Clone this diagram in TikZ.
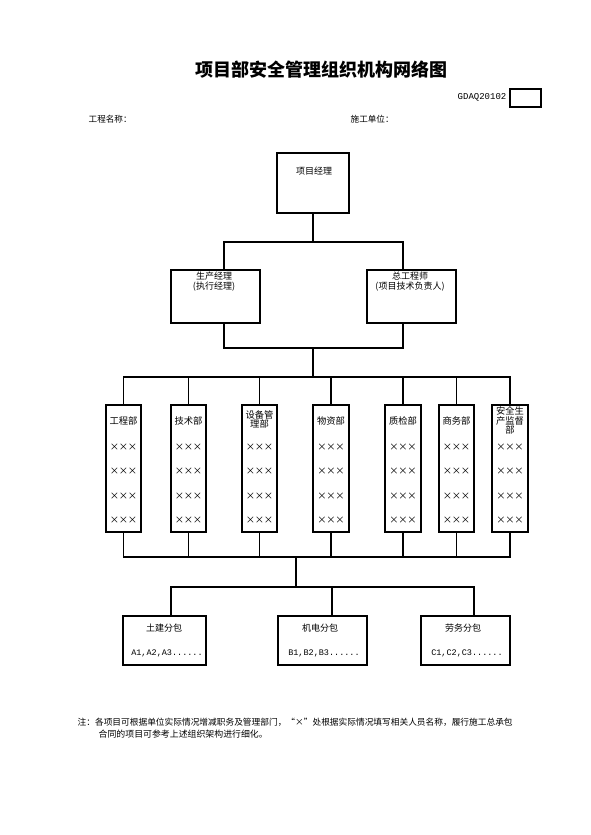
\documentclass[tikz,border=0pt]{standalone}
\usepackage{fontspec}
\setmainfont{Noto Sans CJK SC}
\newfontfamily\latinmono{Liberation Mono}
\newcommand{\xrow}{\makebox[9pt]{×}\makebox[9pt]{×}\makebox[9pt]{×}}
\begin{document}
\begin{tikzpicture}[x=1pt,y=-1pt,line width=1.3pt,
  bx/.style={draw,rectangle,inner sep=0pt,line width=1.4pt},
  txt/.style={inner sep=0pt,align=center,font=\fontsize{9}{10.4}\selectfont},
  dtxt/.style={inner sep=0pt,align=center,font=\fontsize{9.3}{9.8}\selectfont},
  small/.style={inner sep=0pt,anchor=west,font=\fontsize{8.6}{10}\selectfont},
  code/.style={inner sep=0pt,font=\fontsize{8.5}{10}\latinmono}
]
\useasboundingbox[fill=white] (0,0) rectangle (590,835);

% title and header
\node[inner sep=0pt,font=\fontsize{18}{20}\selectfont\bfseries] (title) at (321,69.5) {项目部安全管理组织机构网络图};
\node[inner sep=0pt,anchor=east,font=\fontsize{9}{10}\latinmono] (gd) at (507,97.5) {GDAQ20102};
\node[bx,minimum width=31,minimum height=18] (gdbox) at (525.5,98) {};
\node[small] (pname) at (88,119) {工程名称：};
\node[small] (unit) at (350,119) {施工单位：};

% top levels
\node[bx,minimum width=72,minimum height=60] (pm) at (313,183) {};
\node[txt] (pmt) at (314,171) {项目经理};
\node[bx,minimum width=89,minimum height=53] (pe) at (215.5,296.5) {};
\node[txt] (pet) at (214,281.5) {生产经理\\(执行经理)};
\node[bx,minimum width=89,minimum height=53] (ce) at (411.5,296.5) {};
\node[txt] (cet) at (410,281.5) {总工程师\\(项目技术负责人)};

% departments
\foreach \n/\x/\w in {d1/123.5/35,d2/188.5/35,d3/259.5/35,d4/331/36,d5/403/36,d6/456.5/35,d7/510/36}{
  \node[bx,minimum width=\w,minimum height=127] (\n) at (\x,468.5) {};
  \foreach \r/\yy in {1/447.5,2/471.5,3/496,4/520.5}{
    \node[dtxt] (\n x\r) at (\x,\yy) {\xrow};
  }
}
\node[dtxt] (d1n) at (123.5,421) {工程部};
\node[dtxt] (d2n) at (188.5,421) {技术部};
\node[dtxt] (d3n) at (259.5,419.5) {设备管\\理部};
\node[dtxt] (d4n) at (331,421) {物资部};
\node[dtxt] (d5n) at (403,421) {质检部};
\node[dtxt] (d6n) at (456.5,421) {商务部};
\node[dtxt] (d7n) at (510,420.5) {安全生\\产监督\\部};

% subcontracts
\node[bx,minimum width=83,minimum height=49] (b1) at (164.5,640.5) {};
\node[bx,minimum width=89,minimum height=49] (b2) at (322.5,640.5) {};
\node[bx,minimum width=89,minimum height=49] (b3) at (465.5,640.5) {};
\node[txt] (b1n) at (164,628) {土建分包};
\node[txt] (b2n) at (320,628) {机电分包};
\node[txt] (b3n) at (463,628) {劳务分包};
\node[code] (b1c) at (167,653) {A1,A2,A3......};
\node[code] (b2c) at (324,653) {B1,B2,B3......};
\node[code] (b3c) at (467,653) {C1,C2,C3......};

% note
\node[small,font=\fontsize{8.7}{10}\selectfont] (note1) at (77,722) {注：各项目可根据单位实际情况增减职务及管理部门，“×”处根据实际情况填写相关人员名称，履行施工总承包};
\node[small,font=\fontsize{8.9}{10}\selectfont] (note2) at (98,734) {合同的项目可参考上述组织架构进行细化。};

% connectors
\coordinate (bus1) at (313,242);
\coordinate (bus2) at (313,348);
\coordinate (bus3) at (313,377);
\coordinate (bus4) at (296,557);
\coordinate (bus5) at (296,587);
\coordinate (peN) at ([xshift=8.5pt]pe.north);
\coordinate (peS) at ([xshift=8.5pt]pe.south);
\coordinate (ceN) at ([xshift=-8.5pt]ce.north);
\coordinate (ceS) at ([xshift=-8.5pt]ce.south);
\coordinate (b1N) at ([xshift=6.5pt]b1.north);
\coordinate (b2N) at ([xshift=9.5pt]b2.north);
\coordinate (b3N) at ([xshift=8.5pt]b3.north);

\draw (pm.south) -- (bus1);
\draw (peN) |- (bus1) -| (ceN);
\draw (peS) |- (bus2) -| (ceS);
\draw (bus2) -- (bus3);
\draw (d1.north) |- (bus3) -| (d7.north);
\draw (d1.south) |- (bus4) -| (d7.south);
\foreach \n in {d2,d3,d4,d5,d6}{
  \draw (\n.north) -- (\n.north |- bus3);
  \draw (\n.south) -- (\n.south |- bus4);
}
\draw (bus4) -- (bus5);
\draw (b1N) |- (bus5) -| (b3N);
\draw (b2N) -- (b2N |- bus5);
\end{tikzpicture}
\end{document}
